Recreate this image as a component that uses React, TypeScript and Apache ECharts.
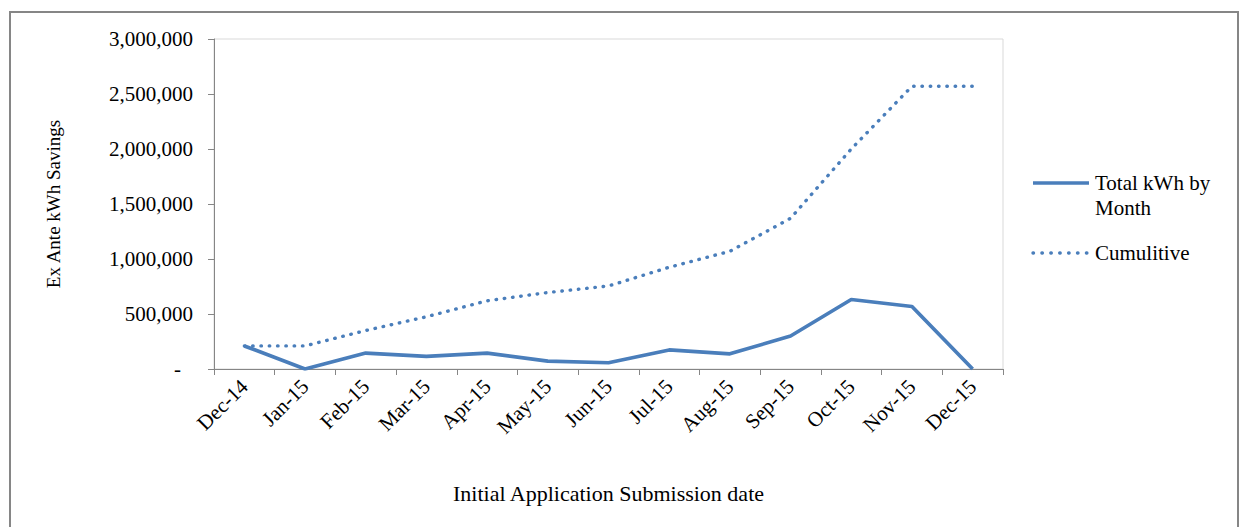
import React, { useEffect, useRef } from "react";
import * as echarts from "echarts";

const categories = ["Dec-14", "Jan-15", "Feb-15", "Mar-15", "Apr-15", "May-15", "Jun-15", "Jul-15", "Aug-15", "Sep-15", "Oct-15", "Nov-15", "Dec-15"];
const totalByMonth = [210000, 0, 145000, 115000, 145000, 72000, 57000, 173000, 138000, 300000, 632000, 568000, 0];
const cumulative = [210000, 210000, 350000, 475000, 620000, 695000, 755000, 925000, 1070000, 1370000, 2000000, 2570000, 2570000];
const yTicks = [0, 500000, 1000000, 1500000, 2000000, 2500000, 3000000];

const FONT = "'Liberation Serif', 'Times New Roman', serif";
const BLUE = "#4A7EBB";

export default function App() {
  const ref = useRef<HTMLDivElement>(null);
  useEffect(() => {
    document.body.style.margin = "0";
    const chart = echarts.init(ref.current!, undefined, { renderer: "svg" });
    chart.setOption({
      animation: false,
      backgroundColor: "#fff",
      grid: { left: 214, top: 39, right: 237, bottom: 158, show: true, borderColor: "#d9d9d9", borderWidth: 1 },
      xAxis: {
        type: "category",
        data: categories,
        boundaryGap: true,
        axisLine: { lineStyle: { color: "#868686", width: 1 } },
        axisTick: { show: true, length: 6, interval: 0, lineStyle: { color: "#868686" } },
        axisLabel: { interval: 0, rotate: 45, fontFamily: FONT, fontSize: 21, color: "#000", margin: 14 },
        name: "Initial Application Submission date",
        nameLocation: "middle",
        nameGap: 113,
        nameTextStyle: { fontFamily: FONT, fontSize: 22, color: "#000" },
      },
      yAxis: {
        type: "value",
        min: yTicks[0],
        max: yTicks[yTicks.length - 1],
        interval: 500000,
        splitLine: { show: false },
        axisLine: { show: true, lineStyle: { color: "#868686", width: 1 } },
        axisTick: { show: true, length: 6, lineStyle: { color: "#868686" } },
        axisLabel: {
          fontFamily: FONT,
          fontSize: 21,
          color: "#000",
          margin: 21,
          formatter: (v: number) => (v === 0 ? "{d|-}" : v.toLocaleString("en-US")),
          rich: { d: { fontFamily: FONT, fontSize: 21, color: "#000", padding: [0, 12, 0, 0] } },
        },
        name: "Ex Ante kWh Savings",
        nameLocation: "middle",
        nameGap: 151,
        nameRotate: 90,
        nameTextStyle: { fontFamily: FONT, fontSize: 19, color: "#000" },
      },
      series: [
        {
          name: "Total kWh by Month",
          type: "line",
          data: totalByMonth,
          symbol: "none",
          lineStyle: { color: BLUE, width: 3.7 },
          z: 3,
        },
        {
          name: "Cumulitive",
          type: "line",
          data: cumulative,
          symbol: "none",
          lineStyle: { color: BLUE, width: 3.4, type: [0.5, 7.8], cap: "round" },
          z: 2,
        },
      ],
      graphic: [
        { type: "rect", shape: { x: 10, y: 12, width: 1228, height: 540 }, style: { fill: "none", stroke: "#868686", lineWidth: 2 }, silent: true },
        { type: "line", shape: { x1: 1033, y1: 183, x2: 1089, y2: 183 }, style: { stroke: BLUE, lineWidth: 3.7 } },
        { type: "text", x: 1095, y: 183, style: { text: "Total kWh by", font: `21px ${FONT}`, fill: "#000", verticalAlign: "middle" } },
        { type: "text", x: 1095, y: 208, style: { text: "Month", font: `21px ${FONT}`, fill: "#000", verticalAlign: "middle" } },
        { type: "line", shape: { x1: 1033, y1: 253, x2: 1087, y2: 253 }, style: { stroke: BLUE, lineWidth: 3.4, lineDash: [0.5, 8.4], lineCap: "round" } },
        { type: "text", x: 1095, y: 253, style: { text: "Cumulitive", font: `21px ${FONT}`, fill: "#000", verticalAlign: "middle" } },
      ],
    });
    return () => chart.dispose();
  }, []);
  return <div ref={ref} style={{ width: 1240, height: 527 }} />;
}
